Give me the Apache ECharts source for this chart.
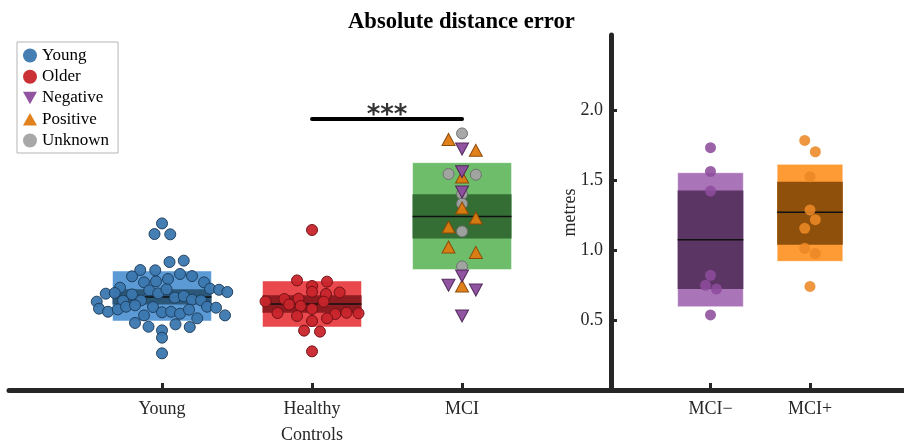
<!DOCTYPE html>
<html>
<head>
<meta charset="utf-8">
<script src="https://cdn.jsdelivr.net/npm/echarts@6.0.0/dist/echarts.min.js"></script>
<style>
html,body{margin:0;padding:0;background:#fff;}
#chart{width:904px;height:445px;}
</style>
</head>
<body>
<div id="chart"></div>
<script>
// ---------------- data ----------------
const chartTitle = 'Absolute distance error';
const leftCategories = ['Young', 'Healthy\nControls', 'MCI'];
const rightCategories = ['MCI\u2212', 'MCI+'];
const yTickValues = [0.5, 1.0, 1.5, 2.0];

// points: [jitter offset in category units, metres]
const youngPoints = [
  [0,1.19],[-0.05,1.114],[0.055,1.112],[0.05,0.914],[0.145,0.924],[-0.145,0.857],[-0.045,0.855],
  [-0.2,0.812],[0.12,0.829],[0.2,0.814],[-0.12,0.769],[-0.04,0.776],[0.04,0.793],[0.28,0.769],
  [-0.28,0.731],[-0.375,0.688],[-0.315,0.693],[-0.085,0.712],[-0.025,0.69],[0.03,0.719],[0.32,0.724],
  [0.38,0.716],[0.435,0.70],[-0.2,0.683],[-0.435,0.631],[-0.26,0.638],[-0.14,0.64],[0.085,0.66],
  [0.145,0.671],[0.2,0.645],[0.26,0.64],[-0.42,0.581],[-0.36,0.559],[-0.295,0.576],[-0.24,0.595],
  [-0.18,0.605],[-0.06,0.593],[0,0.555],[0.06,0.559],[0.12,0.545],[0.18,0.574],[0.3,0.595],
  [0.36,0.588],[0.42,0.533],[-0.12,0.533],[0.235,0.512],[-0.18,0.479],[-0.09,0.452],[0.09,0.469],
  [0.185,0.45],[0,0.426],[0,0.374],[0,0.262]
];
const olderPoints = [
  [0,1.143],[-0.1,0.783],[0,0.743],[0.1,0.774],[0,0.702],[0.093,0.686],[0.184,0.697],[-0.31,0.633],
  [-0.185,0.65],[-0.09,0.652],[-0.153,0.611],[-0.076,0.60],[0.077,0.631],[0,0.579],[-0.23,0.55],
  [-0.1,0.529],[0.155,0.543],[0.23,0.552],[0.31,0.548],[0.1,0.512],[0,0.493],[-0.053,0.424],
  [0.053,0.417],[0,0.276]
];
const mciUnknownPoints = [[0,1.833],[-0.09,1.543],[0.092,1.538],[0,1.40],[0,1.331],[0,1.133],[0,0.883]];
const mciPositivePoints = [[-0.09,1.79],[0.092,1.712],[0,1.521],[0,1.30],[0.092,1.229],[-0.09,1.164],[-0.09,1.021],[0.092,0.983],[0,0.743]];
const mciNegativePoints = [[0,1.721],[0,1.559],[0,1.414],[0,0.814],[-0.09,0.748],[0.092,0.714],[0,0.529]];
const mciMinusPoints = [[0,1.731],[0,1.561],[0,1.421],[0,0.819],[-0.05,0.748],[0.06,0.721],[0,0.536]];
const mciPlusPoints = [[-0.053,1.783],[0.054,1.702],[0,1.524],[0,1.286],[0.054,1.217],[-0.053,1.155],[-0.053,1.012],[0.054,0.975],[0,0.74]];

// box stats: [sdLow, ciLow, mean, ciHigh, sdHigh]
const youngBox = [0.493, 0.611, 0.664, 0.719, 0.85];
const olderBox = [0.45, 0.552, 0.614, 0.676, 0.779];
const mciBox = [0.86, 1.083, 1.24, 1.398, 1.624];
const mciMinusBox = [0.595, 0.721, 1.074, 1.426, 1.552];
const mciPlusBox = [0.919, 1.038, 1.269, 1.488, 1.612];

// significance
const sigFrom = 2, sigTo = 3, sigHeight = 1.936, sigLabel = '***';

// ---------------- styles ----------------
const FONT = '"Liberation Serif", "DejaVu Serif", serif';
const AX = '#262626';
const leftLight = ['#5b9ad4', '#e9484c', '#6dbd6b'];
const leftDark = ['#2b5878', '#8e1c20', '#346e35'];
const rightLight = ['#aa74b8', '#ff9b34'];
const rightDark = ['#5b3563', '#8f500c'];
const BOX_HALF = 0.33;

function place(points, center) {
  return points.map(p => [center + p[0], p[1]]);
}
function boxRender(light, dark) {
  return function (params, api) {
    const x = api.value(0);
    const sdLo = api.value(1), ciLo = api.value(2), mean = api.value(3), ciHi = api.value(4), sdHi = api.value(5);
    const i = params.dataIndex;
    const a = api.coord([x - BOX_HALF, sdHi]);
    const b = api.coord([x + BOX_HALF, sdLo]);
    const c = api.coord([x - BOX_HALF, ciHi]);
    const d = api.coord([x + BOX_HALF, ciLo]);
    const m1 = api.coord([x - BOX_HALF, mean]);
    const m2 = api.coord([x + BOX_HALF, mean]);
    return {
      type: 'group',
      children: [
        {type: 'rect', shape: {x: a[0], y: a[1], width: b[0] - a[0], height: b[1] - a[1]},
          style: {fill: light[i], stroke: 'rgba(255,255,255,0.5)', lineWidth: 1}},
        {type: 'rect', shape: {x: c[0], y: c[1], width: d[0] - c[0], height: d[1] - c[1]},
          style: {fill: dark[i]}},
        {type: 'line', shape: {x1: m1[0], y1: m1[1], x2: m2[0], y2: m2[1]},
          style: {stroke: '#111', lineWidth: 1.5}}
      ]
    };
  };
}

const yMax = 2.536;
const chart = echarts.init(document.getElementById('chart'), null, {renderer: 'canvas'});

const commonY = {
  type: 'value', min: 0, max: yMax, interval: 0.5
};

const option = {
  animation: false,
  backgroundColor: '#fff',
  title: {
    text: chartTitle, left: 343, top: 6,
    textStyle: {fontFamily: FONT, fontSize: 22.6, fontWeight: 'bold', color: '#000'}
  },
  legend: {
    orient: 'vertical', left: 17, top: 42,
    padding: [5, 9, 4, 6], itemGap: 4.25, itemWidth: 14, itemHeight: 14,
    borderColor: '#b5b5b5', borderWidth: 1, backgroundColor: '#fff',
    itemStyle: {borderWidth: 0},
    textStyle: {fontFamily: FONT, fontSize: 17, color: '#000', lineHeight: 16},
    data: [
      {name: 'Young', icon: 'circle'},
      {name: 'Older', icon: 'circle'},
      {name: 'Negative', icon: 'path://M0,0 L10,0 L5,9 Z'},
      {name: 'Positive', icon: 'path://M5,0 L10,9 L0,9 Z'},
      {name: 'Unknown', icon: 'circle'}
    ]
  },
  grid: [
    {left: 9, right: 293, top: 35, bottom: 55, containLabel: false, outerBoundsMode: 'none'},
    {left: 611, right: 0, top: 35, bottom: 55, containLabel: false, outerBoundsMode: 'none'}
  ],
  xAxis: [
    {
      gridIndex: 0, type: 'value', min: -0.02, max: 3.993,
      splitLine: {show: false},
      axisLine: {show: true, lineStyle: {color: AX, width: 5}},
      axisTick: {show: true, inside: true, length: 7, lineStyle: {color: AX, width: 3}, customValues: [1, 2, 3]},
      axisLabel: {
        customValues: [1, 2, 3], margin: 6,
        formatter: v => leftCategories[Math.round(v) - 1] || '',
        fontFamily: FONT, fontSize: 18, color: AX, lineHeight: 26
      }
    },
    {
      gridIndex: 1, type: 'value', min: 0, max: 2.945,
      splitLine: {show: false},
      axisLine: {show: true, lineStyle: {color: AX, width: 5}},
      axisTick: {show: true, inside: true, length: 7, lineStyle: {color: AX, width: 3}, customValues: [1, 2]},
      axisLabel: {
        customValues: [1, 2], margin: 6,
        formatter: v => rightCategories[Math.round(v) - 1] || '',
        fontFamily: FONT, fontSize: 18, color: AX, lineHeight: 26
      }
    }
  ],
  yAxis: [
    Object.assign({gridIndex: 0, show: false, splitLine: {show: false}}, commonY),
    Object.assign({
      gridIndex: 1,
      name: 'metres', nameLocation: 'middle', nameGap: 32, nameMoveOverlap: false,
      nameTextStyle: {fontFamily: FONT, fontSize: 18, color: AX},
      splitLine: {show: false},
      axisLine: {show: true, lineStyle: {color: AX, width: 5}},
      axisTick: {show: true, inside: true, length: 6, lineStyle: {color: AX, width: 3}, customValues: yTickValues},
      axisLabel: {
        customValues: yTickValues, margin: 8,
        formatter: v => v.toFixed(1),
        fontFamily: FONT, fontSize: 18, color: AX
      }
    }, commonY)
  ],
  series: [
    {
      type: 'custom', name: 'leftBoxes', xAxisIndex: 0, yAxisIndex: 0, z: 1,
      renderItem: boxRender(leftLight, leftDark),
      data: [[1].concat(youngBox), [2].concat(olderBox), [3].concat(mciBox)]
    },
    {
      type: 'custom', name: 'rightBoxes', xAxisIndex: 1, yAxisIndex: 1, z: 1,
      renderItem: boxRender(rightLight, rightDark),
      data: [[1].concat(mciMinusBox), [2].concat(mciPlusBox)]
    },
    {
      type: 'scatter', name: 'Young', xAxisIndex: 0, yAxisIndex: 0, z: 3,
      symbol: 'circle', symbolSize: 11,
      itemStyle: {color: '#3b77ae', borderColor: '#1e3d5c', borderWidth: 1, opacity: 0.95},
      data: place(youngPoints, 1)
    },
    {
      type: 'scatter', name: 'Older', xAxisIndex: 0, yAxisIndex: 0, z: 3,
      symbol: 'circle', symbolSize: 11,
      itemStyle: {color: '#c8252b', borderColor: '#6e1014', borderWidth: 1, opacity: 0.95},
      data: place(olderPoints, 2)
    },
    {
      type: 'scatter', name: 'Unknown', xAxisIndex: 0, yAxisIndex: 0, z: 3,
      symbol: 'circle', symbolSize: 11,
      itemStyle: {color: '#a3a3a3', borderColor: '#6e6e6e', borderWidth: 1, opacity: 0.95},
      data: place(mciUnknownPoints, 3)
    },
    {
      type: 'scatter', name: 'Positive', xAxisIndex: 0, yAxisIndex: 0, z: 4,
      symbol: 'triangle', symbolSize: [13, 12],
      itemStyle: {color: '#de7a10', borderColor: '#8a4806', borderWidth: 1, opacity: 0.95},
      data: place(mciPositivePoints, 3)
    },
    {
      type: 'scatter', name: 'Negative', xAxisIndex: 0, yAxisIndex: 0, z: 4,
      symbol: 'triangle', symbolRotate: 180, symbolSize: [13, 12],
      itemStyle: {color: '#8b4b9c', borderColor: '#4e2558', borderWidth: 1, opacity: 0.95},
      data: place(mciNegativePoints, 3)
    },
    {
      type: 'scatter', name: 'MCI\u2212 points', xAxisIndex: 1, yAxisIndex: 1, z: 3,
      symbol: 'circle', symbolSize: 11,
      itemStyle: {color: '#8d4c9c', opacity: 0.88},
      data: place(mciMinusPoints, 1)
    },
    {
      type: 'scatter', name: 'MCI+ points', xAxisIndex: 1, yAxisIndex: 1, z: 3,
      symbol: 'circle', symbolSize: 11,
      itemStyle: {color: '#ec8826', opacity: 0.88},
      data: place(mciPlusPoints, 2)
    },
    {
      type: 'line', name: 'sigBar', xAxisIndex: 0, yAxisIndex: 0, z: 5,
      symbol: 'none', silent: true,
      lineStyle: {color: '#000', width: 4, cap: 'round'},
      data: [[sigFrom, sigHeight], [sigTo, sigHeight]]
    },
    {
      type: 'scatter', name: 'sigLabel', xAxisIndex: 0, yAxisIndex: 0, z: 5,
      symbolSize: 0, silent: true,
      label: {show: true, position: 'top', distance: -10, formatter: sigLabel,
        fontFamily: '"DejaVu Sans", sans-serif', fontSize: 26, fontWeight: 'bold', color: '#000'},
      data: [[(sigFrom + sigTo) / 2, sigHeight]]
    }
  ]
};
chart.setOption(option);
</script>
</body>
</html>
